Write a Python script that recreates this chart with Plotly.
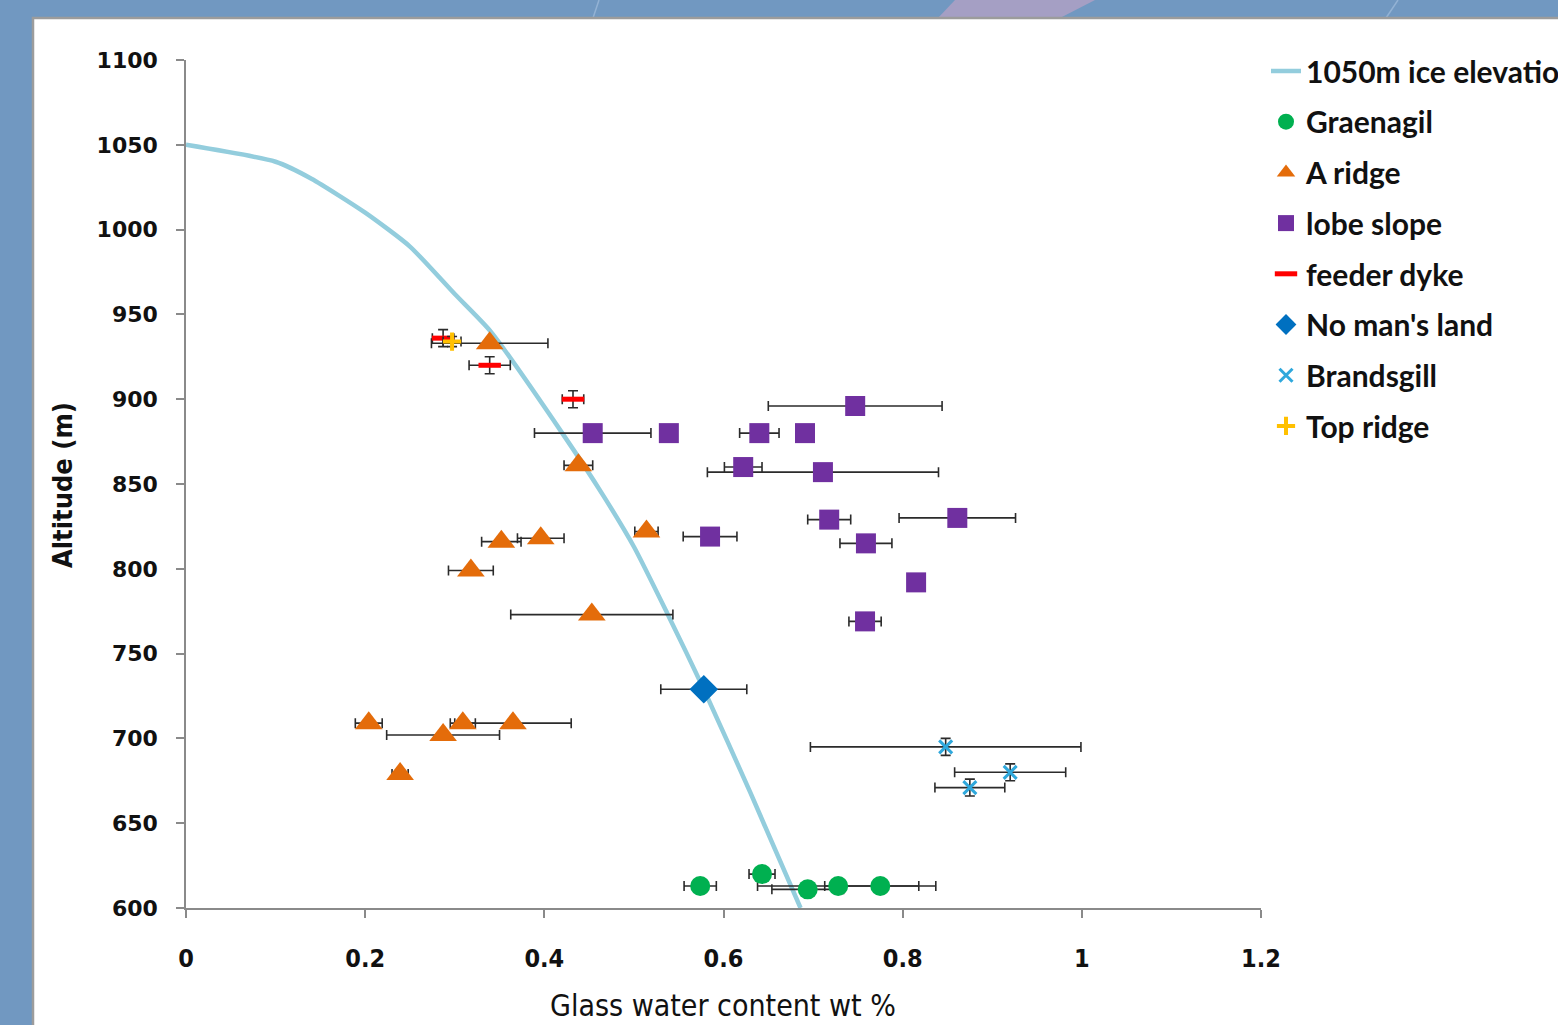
import plotly.graph_objects as go

# ---------------- data ----------------
# modelled water content along the 1050 m ice-surface line
ice_x = [0.0, 0.10, 0.14, 0.20, 0.25, 0.30, 0.34, 0.42, 0.466, 0.50, 0.537, 0.578, 0.63, 0.686]
ice_alt = [1050, 1040, 1030, 1010, 990, 962, 940, 880, 843, 813, 774, 729, 668, 600]

graenagil_x = [0.574, 0.643, 0.694, 0.728, 0.775]
graenagil_alt = [613, 620, 611, 613, 613]
graenagil_err = [0.018, 0.0145, 0.040, 0.090, 0.062]

aridge_x = [0.339, 0.438, 0.514, 0.396, 0.352, 0.318, 0.453, 0.204, 0.287, 0.309, 0.365, 0.239]
aridge_alt = [933, 861, 822, 818, 816, 799, 773, 709, 702, 709, 709, 679]
aridge_err = [0.065, 0.016, 0.013, 0.026, 0.022, 0.025, 0.0905, 0.015, 0.063, 0.014, 0.065, 0.009]

lobe_x = [0.747, 0.454, 0.539, 0.640, 0.691, 0.622, 0.711, 0.718, 0.861, 0.585, 0.759, 0.815, 0.758]
lobe_alt = [896, 880, 880, 880, 880, 860, 857, 829, 830, 819, 815, 792, 769]
lobe_err = [0.097, 0.065, 0.0, 0.022, 0.010, 0.021, 0.129, 0.024, 0.065, 0.030, 0.029, 0.0, 0.018]

feeder_x = [0.287, 0.339, 0.432]
feeder_alt = [936, 920, 900]
feeder_xerr = [0.012, 0.023, 0.012]
feeder_yerr = [5, 5, 5]

noman_x = [0.578]
noman_alt = [729]
noman_err = [0.048]

brands_x = [0.848, 0.920, 0.875]
brands_alt = [695, 680, 671]
brands_xerr = [0.151, 0.062, 0.039]
brands_yerr = [5, 5, 5]

topridge_x = [0.297]
topridge_alt = [934]
topridge_xerr = [0.010]
topridge_yerr = [3]

# ---------------- layout geometry (pixels) ----------------
W, H = 1558, 1025
L, R, T, B = 186, 1261, 60, 908


def px(x):
    return (x - L) / (R - L)


def py(y):
    return (B - y) / (B - T)


ERR = "#2b2b2b"


def xerr(arr):
    return dict(type="data", array=arr, color=ERR, thickness=1.6, width=5)


def yerr(arr):
    return dict(type="data", array=arr, color=ERR, thickness=1.6, width=5)


fig = go.Figure()

fig.add_trace(go.Scatter(
    x=ice_x, y=ice_alt, mode="lines", name="1050m ice elevation",
    line=dict(color="#93CDDD", width=4.5, shape="spline", smoothing=0.6),
    legendgroup="g1",
))

fig.add_trace(go.Scatter(
    x=graenagil_x, y=graenagil_alt, mode="markers", name="Graenagil",
    marker=dict(symbol="circle", size=20, color="#00B050"),
    error_x=xerr(graenagil_err), legendgroup="g2",
))

fig.add_trace(go.Scatter(
    x=aridge_x, y=aridge_alt, mode="markers", name="A ridge",
    marker=dict(symbol="triangle-up", size=24, color="#E46C0A"),
    error_x=xerr(aridge_err), legendgroup="g3",
))

fig.add_trace(go.Scatter(
    x=lobe_x, y=lobe_alt, mode="markers", name="lobe slope",
    marker=dict(symbol="square", size=20, color="#7030A0"),
    error_x=xerr(lobe_err), legendgroup="g4",
))

fig.add_trace(go.Scatter(
    x=feeder_x, y=feeder_alt, mode="markers", name="feeder dyke",
    marker=dict(symbol="line-ew", size=16, color="#FF0000",
                line=dict(color="#FF0000", width=5)),
    error_x=xerr(feeder_xerr), error_y=yerr(feeder_yerr), legendgroup="g5",
))

fig.add_trace(go.Scatter(
    x=noman_x, y=noman_alt, mode="markers", name="No man's land",
    marker=dict(symbol="diamond", size=22, color="#0070C0"),
    error_x=xerr(noman_err), legendgroup="g6",
))

fig.add_trace(go.Scatter(
    x=brands_x, y=brands_alt, mode="markers", name="Brandsgill",
    marker=dict(symbol="x-thin", size=13, color="#2FA8DC",
                line=dict(color="#2FA8DC", width=3)),
    error_x=xerr(brands_xerr), error_y=yerr(brands_yerr), legendgroup="g7",
))

fig.add_trace(go.Scatter(
    x=topridge_x, y=topridge_alt, mode="markers", name="Top ridge",
    marker=dict(symbol="cross-thin", size=13, color="#FFC000",
                line=dict(color="#FFC000", width=4)),
    error_x=xerr(topridge_xerr), error_y=yerr(topridge_yerr), legendgroup="g8",
))

# slide background: blue field with a few decorative strokes and a white panel
shapes = [
    dict(type="path", xref="paper", yref="paper", layer="below",
         path=f"M {px(955)} {py(0)} L {px(1095)} {py(0)} L {px(1060)} {py(18)} L {px(938)} {py(18)} Z",
         fillcolor="#A59FC4", line=dict(width=0)),
    dict(type="line", xref="paper", yref="paper", layer="below",
         x0=px(599), y0=py(0), x1=px(593), y1=py(18), line=dict(color="#93B2D4", width=1.5)),
    dict(type="line", xref="paper", yref="paper", layer="below",
         x0=px(1398), y0=py(0), x1=px(1386), y1=py(18), line=dict(color="#93B2D4", width=1.5)),
    dict(type="rect", xref="paper", yref="paper", layer="below",
         x0=px(33), y0=py(18), x1=px(1600), y1=py(1080),
         fillcolor="white", line=dict(color="#9C9C9C", width=2.5)),
]

annotations = [
    dict(text="<b>Altitude (m)</b>", xref="paper", yref="paper", x=px(63), y=py(485),
         textangle=-90, showarrow=False, xanchor="center", yanchor="middle",
         font=dict(family="Liberation Sans Narrow, DejaVu Sans Condensed, sans-serif", size=27, color="#111")),
    dict(text="Glass water content wt %", xref="paper", yref="paper", x=px(723), y=py(1006),
         showarrow=False, xanchor="center", yanchor="middle",
         font=dict(family="Liberation Sans Narrow, DejaVu Sans Condensed, sans-serif", size=30, color="#111")),
]

fig.update_layout(
    width=W, height=H,
    margin=dict(l=L, r=W - R, t=T, b=H - B, pad=0, autoexpand=False),
    paper_bgcolor="#7198C1",
    plot_bgcolor="white",
    shapes=shapes,
    annotations=annotations,
    showlegend=True,
    legend=dict(
        x=px(1266), y=py(45), xanchor="left", yanchor="top",
        bgcolor="rgba(0,0,0,0)", borderwidth=0,
        font=dict(family="Lato, sans-serif", size=30, color="#111", weight="bold"),
        tracegroupgap=8.7, itemsizing="trace", itemwidth=30,
    ),
    xaxis=dict(
        range=[0, 1.2], dtick=0.2, tick0=0, showgrid=False, zeroline=False,
        showline=True, linecolor="#8A8A8A", linewidth=1.5,
        ticks="outside", ticklen=8, tickcolor="#8A8A8A", tickwidth=1.5,
        ticklabelstandoff=19,
        tickfont=dict(family="Liberation Sans Narrow, DejaVu Sans Condensed, sans-serif",
                      size=25, color="#111", weight="bold"),
    ),
    yaxis=dict(
        range=[600, 1100], dtick=50, tick0=600, showgrid=False, zeroline=False,
        showline=True, linecolor="#8A8A8A", linewidth=1.5,
        ticks="outside", ticklen=8, tickcolor="#8A8A8A", tickwidth=1.5,
        ticklabelstandoff=14,
        tickfont=dict(family="DejaVu Sans", size=22, color="#111", weight="bold"),
    ),
)

fig.write_html("out.html")
